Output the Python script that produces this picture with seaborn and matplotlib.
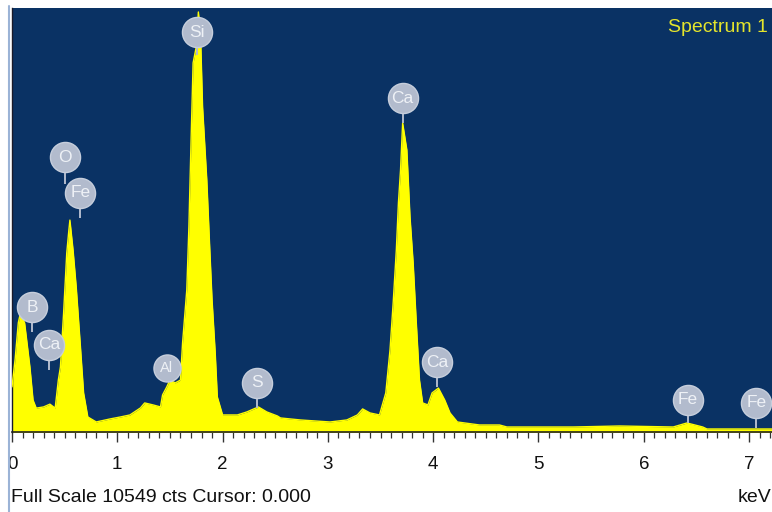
import matplotlib
matplotlib.use("Agg")
import matplotlib.pyplot as plt
from matplotlib.ticker import MultipleLocator
import seaborn as sns

# EDS spectrum: energy (keV) and counts
energy_kev = [0.00, 0.03, 0.06, 0.08, 0.12, 0.17, 0.20, 0.23, 0.30, 0.36,
              0.41, 0.44, 0.46, 0.49, 0.52, 0.54, 0.55, 0.58, 0.61, 0.65,
              0.68, 0.72, 0.80, 0.93, 1.03, 1.12, 1.22, 1.26, 1.34, 1.41,
              1.43, 1.47, 1.50, 1.55, 1.60, 1.62, 1.66, 1.68, 1.70, 1.72,
              1.75, 1.77, 1.79, 1.81, 1.85, 1.88, 1.90, 1.93, 1.95, 2.00,
              2.14, 2.23, 2.34, 2.42, 2.52, 2.55, 2.74, 3.02, 3.18, 3.28,
              3.33, 3.40, 3.49, 3.55, 3.59, 3.62, 3.65, 3.67, 3.69, 3.71,
              3.75, 3.78, 3.81, 3.84, 3.87, 3.90, 3.95, 3.99, 4.05, 4.11,
              4.16, 4.23, 4.44, 4.63, 4.70, 5.33, 5.77, 6.28, 6.41, 6.56,
              6.60, 7.22]
counts = [1100, 1800, 2700, 2940, 2690, 1600, 770, 570, 600, 670,
          570, 1270, 1600, 2940, 4440, 5010, 5260, 4510, 3590, 2100,
          950, 350, 225, 300, 350, 400, 575, 700, 650, 600,
          900, 1100, 1270, 1200, 1270, 2200, 3520, 5090, 7180, 9180,
          9580, 10450, 9930, 8080, 6260, 4440, 3270, 1950, 850, 400,
          400, 475, 600, 475, 375, 325, 275, 225, 275, 400,
          550, 450, 400, 950, 2020, 3190, 4510, 5690, 6510, 7680,
          7010, 5340, 4190, 2690, 1270, 700, 650, 950, 1070, 770,
          450, 225, 150, 150, 100, 100, 125, 100, 200, 100,
          50, 50]

full_scale = 10549

# Element markers: symbol, energy, circle height, stem end height
label_text = ["B", "Ca", "O", "Fe", "Si", "Al", "S", "Ca", "Ca", "Fe", "Fe"]
label_kev = [0.19, 0.35, 0.50, 0.65, 1.76, 1.47, 2.33, 3.71, 4.04, 6.42, 7.07]
label_cts = [3090, 2145, 6830, 5940, 9950, 1570, 1200, 8300, 1720, 775, 700]
stem_cts = [2470, 1520, 6150, 5310, 9380, 1570, 575, 7680, 1100, 200, 75]

tick_values = [0, 1, 2, 3, 4, 5, 6, 7]

sns.set_style("white")
plt.rcParams["font.family"] = ["Liberation Sans Narrow", "Liberation Sans", "DejaVu Sans"]

navy = "#0a3264"
yellow = "#ffff00"
bubble = "#b2bbcd"

fig = plt.figure(figsize=(7.72, 5.12), dpi=100)
fig.patch.set_facecolor("white")
ax = fig.add_axes([12 / 772, 80 / 512, 760 / 772, 424 / 512])
ax.set_facecolor(navy)

ax.fill_between(energy_kev, -40, counts, color=yellow, linewidth=0, zorder=2)
sns.lineplot(x=energy_kev, y=counts, ax=ax, color=yellow, linewidth=1.0,
             sort=False, zorder=3)

ax.set_xlim(0, 7.218)
ax.set_ylim(-25, full_scale)

# element bubbles with stems
for txt, xk, yc, ys in zip(label_text, label_kev, label_cts, stem_cts):
    ax.plot([xk, xk], [ys, yc], color=bubble, linewidth=1.4, zorder=4,
            solid_capstyle="butt")
    size = 380 if txt == "Al" else 470
    ax.scatter([xk], [yc], s=size, color=bubble, edgecolors="#c6cedc",
               linewidths=1.0, zorder=5)
    ax.text(xk, yc, txt, color="#eef1f6", fontsize=12.5 if txt != "Al" else 10.5,
            ha="center", va="center", zorder=6)

# axes decoration
for side in ["top", "right"]:
    ax.spines[side].set_visible(False)
ax.spines["left"].set_color("#1a1a2a")
ax.spines["left"].set_linewidth(1.0)
ax.spines["bottom"].set_color("#222222")
ax.spines["bottom"].set_linewidth(1.2)

ax.set_xticks(tick_values)
ax.set_xticklabels([str(v) for v in tick_values])
ax.xaxis.set_minor_locator(MultipleLocator(0.1))
ax.tick_params(axis="x", which="major", direction="out", length=7, width=1.0,
               color="#333333", labelsize=13.5, pad=10, labelcolor="#111111")
ax.tick_params(axis="x", which="minor", direction="out", length=4, width=0.9,
               color="#333333")
ax.tick_params(axis="x", bottom=True, which="both")
ax.set_yticks([])
ax.set_xlabel("")
ax.set_ylabel("")

ax.text(0.995, 0.955, "Spectrum 1", transform=ax.transAxes, ha="right",
        va="center", color="#e4e42c", fontsize=14)

fig.text(11 / 772, 1 - 497 / 512, "Full Scale 10549 cts Cursor: 0.000",
         ha="left", va="center", fontsize=14, color="#111111")
fig.text(771 / 772, 1 - 497 / 512, "keV", ha="right", va="center",
         fontsize=14, color="#111111")

# frame strip on the left edge
fig.patches.append(plt.Rectangle((0, 0), 8 / 772, 1, transform=fig.transFigure,
                                 facecolor="white", edgecolor="none", zorder=10))
fig.lines.append(plt.Line2D([8.5 / 772, 8.5 / 772], [0, 1 - 6 / 512],
                            transform=fig.transFigure, color="#9bb3d6",
                            linewidth=1.5, zorder=11))

fig.savefig("out.png", dpi=100)
